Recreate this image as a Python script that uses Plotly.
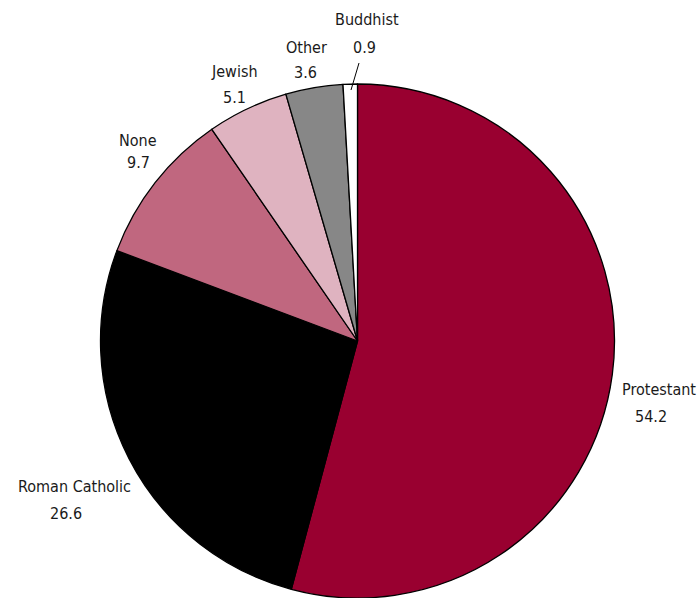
import plotly.graph_objects as go

# Religious affiliation shares (percent), clockwise from 12 o'clock
labels = ["Protestant", "Roman Catholic", "None", "Jewish", "Other", "Buddhist"]
values = [54.2, 26.6, 9.7, 5.1, 3.6, 0.9]
colors = ["#990030", "#000000", "#c0677f", "#dfb3c0", "#878787", "#ffffff"]

# Label anchors (paper px from top-left): (name x, name y, value x, value y)
label_pos = {
    "Protestant": (659, 389, 651, 416),
    "Roman Catholic": (74, 486, 66, 513),
    "None": (138, 140, 138, 163),
    "Jewish": (234, 71, 235, 97),
    "Other": (306, 47, 305, 72),
    "Buddhist": (367, 20, 364, 47),
}

W, H = 700, 598
cx, cy, r = 357.5, 341.0, 257.0

fig = go.Figure(go.Pie(
    labels=labels,
    values=values,
    sort=False,
    direction="clockwise",
    rotation=0,
    marker=dict(colors=colors, line=dict(color="#000000", width=1.3)),
    textinfo="none",
    hoverinfo="label+value",
    domain=dict(x=[(cx - r) / W, (cx + r) / W], y=[1 - (cy + r) / H, 1 - (cy - r) / H]),
))

font = dict(family="DejaVu Sans Condensed, Liberation Sans Narrow, sans-serif", size=16, color="#1a1a1a")
for lab, val in zip(labels, values):
    nx, ny, vx, vy = label_pos[lab]
    for text, x, y in ((lab, nx, ny), (str(val), vx, vy)):
        fig.add_annotation(
            x=x / W, y=1 - y / H, xref="paper", yref="paper",
            text=text, showarrow=False, font=font,
            xanchor="center", yanchor="middle",
        )

# Leader line for the thin Buddhist slice
fig.add_shape(type="line", xref="paper", yref="paper",
              x0=359 / W, y0=1 - 63 / H, x1=351 / W, y1=1 - 90 / H,
              line=dict(color="#000000", width=1))

fig.update_layout(
    width=W, height=H,
    margin=dict(l=0, r=0, t=0, b=0),
    paper_bgcolor="white", plot_bgcolor="white",
    showlegend=False,
)
fig.write_html("out.html")
